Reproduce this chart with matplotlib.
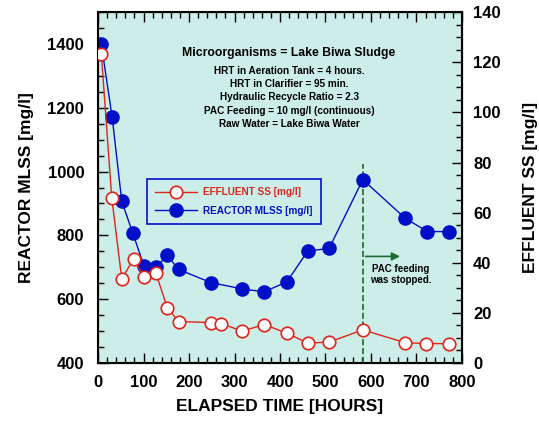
import numpy as np
import matplotlib.pyplot as plt
from matplotlib.ticker import MultipleLocator
from matplotlib.lines import Line2D

plt.rcParams['font.family'] = 'Liberation Sans'
plt.rcParams['font.weight'] = 'bold'

# reactor MLSS (left axis)
mlss_hours = [7, 31, 52, 76, 101, 127, 152, 177, 248, 317, 365, 415, 461, 508, 582, 675, 724, 771]
mlss_vals = [1400, 1170, 907, 808, 704, 700, 737, 693, 652, 632, 623, 654, 751, 759, 975, 854, 812, 812]

# effluent SS (right axis)
ss_hours = [7, 30, 52, 78, 101, 127, 152, 177, 248, 270, 317, 365, 415, 461, 508, 582, 675, 722, 771]
ss_vals = [123.5, 66, 33.5, 41.5, 34.3, 35.9, 22.1, 16.5, 16.1, 15.7, 12.7, 15.3, 11.9, 7.9, 8.3, 13.2, 8.1, 7.7, 7.7]

pac_stop = 582

info_title = 'Microorganisms = Lake Biwa Sludge'
info_lines = ['HRT in Aeration Tank = 4 hours.',
              'HRT in Clarifier = 95 min.',
              'Hydraulic Recycle Ratio = 2.3',
              'PAC Feeding = 10 mg/l (continuous)',
              'Raw Water = Lake Biwa Water']

blue = '#0010c8'
red = '#e0241c'
green = '#1d6b2e'

fig = plt.figure(figsize=(5.39, 4.21), dpi=100)
ax = fig.add_axes([0.182, 0.138, 0.675, 0.833])
ax.set_facecolor('#cdeee8')
ax2 = ax.twinx()

ax.plot(mlss_hours, mlss_vals, '-o', color=blue, lw=1, ms=9.5,
        markerfacecolor=blue, markeredgecolor=blue, zorder=3)
ax2.plot(ss_hours, ss_vals, '-o', color=red, lw=1, ms=9,
         markerfacecolor='white', markeredgecolor=red, markeredgewidth=1.2, zorder=3)

ax.set_xlim(0, 800)
ax.set_ylim(400, 1500)
ax2.set_ylim(0, 140)

ax.plot([pac_stop, pac_stop], [400, 1025], '--', color=green, lw=1.2, zorder=2)
ax.annotate('', xy=(670, 734), xytext=(pac_stop, 734),
            arrowprops=dict(arrowstyle='-|>', color=green, lw=1.2, mutation_scale=12))
ax.text(665, 677, 'PAC feeding\nwas stopped.', ha='center', va='center',
        fontsize=7, fontweight='bold', linespacing=1.15)

ax.text(420, 1372, info_title, ha='center', va='center', fontsize=8.8, fontweight='bold')
for i, line in enumerate(info_lines):
    ax.text(420, 1316 - i * 41.5, line, ha='center', va='center', fontsize=7.2, fontweight='bold')

ax.xaxis.set_major_locator(MultipleLocator(100))
ax.xaxis.set_minor_locator(MultipleLocator(20))
ax.yaxis.set_minor_locator(MultipleLocator(50))
ax.set_yticks([400, 600, 800, 1000, 1200, 1400])
ax2.yaxis.set_major_locator(MultipleLocator(20))
ax2.yaxis.set_minor_locator(MultipleLocator(5))

ax.tick_params(axis='x', which='both', direction='in', top=True, labelsize=12, pad=9)
ax.tick_params(axis='y', which='both', direction='in', labelsize=12, pad=10)
ax.tick_params(which='major', length=7, width=1)
ax.tick_params(which='minor', length=4, width=1)
ax2.tick_params(axis='y', which='both', direction='in', labelsize=12, pad=8)
ax2.tick_params(which='major', length=7, width=1)
ax2.tick_params(which='minor', length=4, width=1)
for lbl in ax.get_xticklabels() + ax.get_yticklabels() + ax2.get_yticklabels():
    lbl.set_fontweight('bold')
for sp in ax.spines.values():
    sp.set_linewidth(1.5)

ax.set_xlabel('ELAPSED TIME [HOURS]', fontsize=12.5, fontweight='bold', labelpad=6)
ax.set_ylabel('REACTOR MLSS [mg/l]', fontsize=12.5, fontweight='bold', labelpad=10)
ax2.set_ylabel('EFFLUENT SS [mg/l]', fontsize=12.5, fontweight='bold', labelpad=16)

handles = [Line2D([], [], color=red, lw=1, marker='o', ms=9, markerfacecolor='white',
                  markeredgecolor=red, markeredgewidth=1.2),
           Line2D([], [], color=blue, lw=1, marker='o', ms=9.5, markerfacecolor=blue,
                  markeredgecolor=blue)]
leg = ax.legend(handles, ['EFFLUENT SS [mg/l]', 'REACTOR MLSS [mg/l]'],
                loc='upper left', bbox_to_anchor=(0.135, 0.524), fancybox=False,
                framealpha=1, facecolor='#cdeee8', edgecolor=blue, fontsize=7.2,
                handlelength=4.2, borderpad=0.8, labelspacing=0.85, handletextpad=0.6,
                borderaxespad=0)
leg.get_frame().set_linewidth(1.2)
for txt, c in zip(leg.get_texts(), [red, blue]):
    txt.set_color(c)
    txt.set_fontweight('bold')
leg.remove()
ax2.add_artist(leg)

fig.savefig('out.png', dpi=100)
